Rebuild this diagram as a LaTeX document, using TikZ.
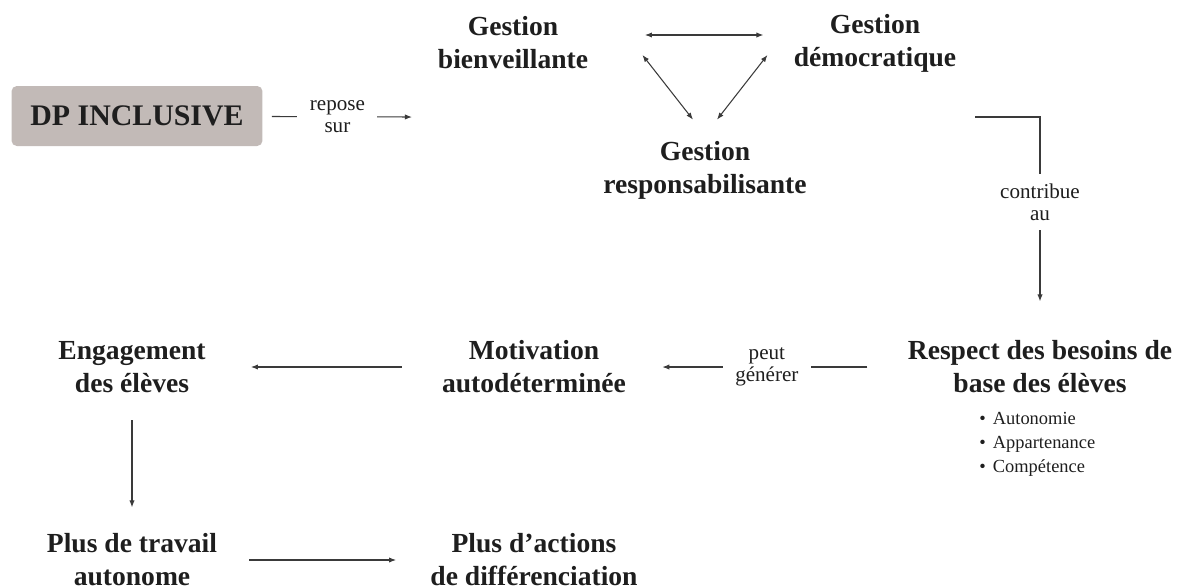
\documentclass[tikz,border=0pt]{standalone}
\usepackage{fontspec}
\setmainfont{Liberation Serif}
\usetikzlibrary{arrows.meta}
\definecolor{boxgrey}{HTML}{C2BAB7}
\definecolor{inkgrey}{HTML}{1E1E1E}
\definecolor{linegrey}{HTML}{3A3A3A}

\begin{document}
\begin{tikzpicture}[x=0.02cm,y=-0.02cm,
    gestion/.style={align=center,inner sep=0pt,text=inkgrey,font=\fontsize{15.7}{18.8}\selectfont\bfseries},
    verb/.style={align=center,fill=white,inner xsep=0.25cm,inner ysep=0.2cm,text=inkgrey,font=\fontsize{12}{12.5}\selectfont},
    link/.style={draw=linegrey,line width=0.6pt},
    onehead/.style={-{Latex[length=4pt,width=3pt]}},
    twohead/.style={{Latex[length=4pt,width=3pt]}-{Latex[length=4pt,width=3pt]}}]

    \useasboundingbox (0,0) rectangle (1186,586);

    \node[fill=boxgrey,rounded corners=3pt,minimum width=5.02cm,minimum height=1.2cm,text=inkgrey,font=\fontsize{17}{20}\selectfont\bfseries] (dp) at (137,116) {DP INCLUSIVE};

    \begin{scope}[every node/.style={gestion}]
        \node (bienv) at (513,43) {Gestion\\bienveillante};
        \node (democ) at (875,43) {Gestion\\démocratique};
        \node (respo) at (705,170) {Gestion\\responsabilisante};
        \node (respect) at (1040,367) {Respect des besoins de\\base des élèves};
        \node (motiv) at (534,367) {Motivation\\autodéterminée};
        \node (engage) at (132,367) {Engagement\\des élèves};
        \node (travail) at (132,560) {Plus de travail\\autonome};
        \node (diff) at (534,560) {Plus d’actions\\de différenciation};
    \end{scope}

    \node[anchor=west,align=left,inner sep=0pt,text=inkgrey,font=\fontsize{10.5}{13.6}\selectfont] (needs) at (979,444)
        {\textbullet\hspace{4pt}Autonomie\\\textbullet\hspace{4pt}Appartenance\\\textbullet\hspace{4pt}Compétence};

    \coordinate (gestions) at (412,117);
    \coordinate (trio) at (975,117);

    % triangle of the three Gestions
    \draw[link,twohead] ([shift={(1.13cm,0.16cm)}]bienv.east) -- ([shift={(-0.6cm,0.16cm)}]democ.west);
    \draw[link,twohead] ([shift={(1.08cm,-0.24cm)}]bienv.east) -- ([shift={(-0.24cm,0.42cm)}]respo.north);
    \draw[link,twohead] ([shift={(-0.52cm,-0.24cm)}]democ.west) -- ([shift={(0.24cm,0.42cm)}]respo.north);

    \begin{scope}[every node/.style={verb}, every edge/.style={link}]
        \path [onehead] (dp) edge [shorten <=0.18cm] node (repose) {repose\\sur} (gestions);
        \draw [link,onehead,shorten >=0.78cm] (trio) -| node[pos=0.69] (contrib) {contribue\\au} (respect.north);
        \path [onehead] (respect) edge [shorten <=0.8cm,shorten >=0.72cm] node (peut) {peut\\générer} (motiv);
        \path [onehead] (motiv) edge [shorten <=0.8cm,shorten >=0.9cm] (engage);
        \path [onehead] (engage.south) edge [shorten <=0.54cm,shorten >=0.52cm] (engage.south |- travail.north);
        \path [onehead] (travail) edge [shorten <=0.64cm,shorten >=0.68cm] (diff);
    \end{scope}

\end{tikzpicture}
\end{document}
